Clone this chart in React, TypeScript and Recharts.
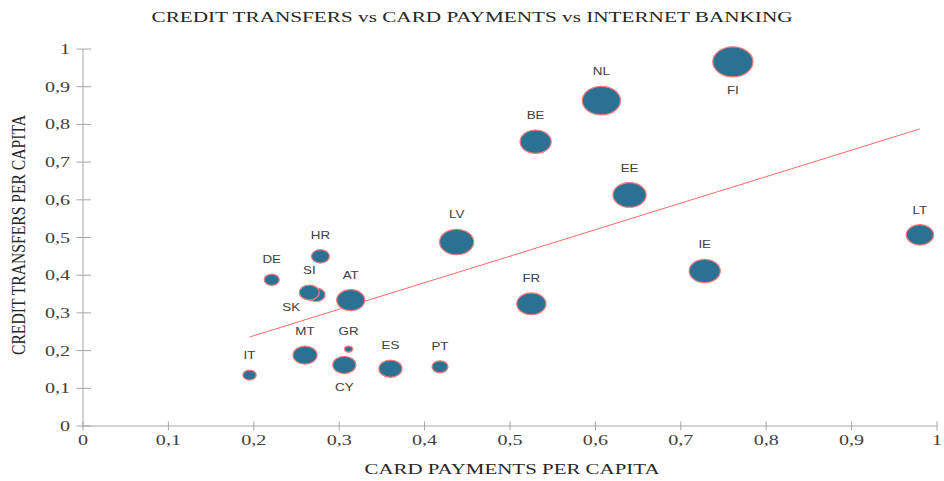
import { ScatterChart, Scatter, XAxis, YAxis, ZAxis, ReferenceLine, Customized } from "recharts";

// country codes, card payments (x), credit transfers (y), internet banking (bubble size)
const countries = ["IT", "DE", "MT", "SK", "SI", "HR", "CY", "GR", "AT", "ES", "PT", "LV", "FR", "BE", "NL", "EE", "IE", "FI", "LT"];
const cardPayments = [0.195, 0.221, 0.26, 0.273, 0.265, 0.278, 0.306, 0.311, 0.3135, 0.36, 0.418, 0.4375, 0.525, 0.53, 0.607, 0.64, 0.728, 0.761, 0.98];
const creditTransfers = [0.135, 0.388, 0.188, 0.348, 0.354, 0.45, 0.162, 0.204, 0.334, 0.152, 0.157, 0.488, 0.324, 0.754, 0.863, 0.613, 0.411, 0.966, 0.507];
const internetBanking = [0.11, 0.14, 0.36, 0.2, 0.25, 0.2, 0.33, 0.04, 0.49, 0.33, 0.16, 0.72, 0.53, 0.6, 0.9, 0.68, 0.6, 1.0, 0.46];

// linear trend line end points
const trendX = [0.195, 0.98];
const trendY = [0.236, 0.788];

const ticks = [0, 0.1, 0.2, 0.3, 0.4, 0.5, 0.6, 0.7, 0.8, 0.9, 1];

const labelPlacement: Record<string, "top" | "bottom" | "left"> = { FI: "bottom", CY: "bottom", SK: "left" };

const data = countries.map((c, i) => ({ name: c, x: cardPayments[i], y: creditTransfers[i], z: internetBanking[i] }));

const STRETCH = 1.34;
const AXIS = "#a6a6a6";
const SERIF = "'Liberation Serif', 'Times New Roman', serif";
const SANS = "'Liberation Sans', Arial, sans-serif";
const fmt = (v: number) => String(Math.round(v * 10) / 10).replace(".", ",");

const XTick = ({ x, y, payload }: any) => (
  <g>
    <line x1={x} x2={x} y1={y - 4.5} y2={y + 4.5} stroke={AXIS} />
    <text transform={`translate(${x},${y + 19}) scale(${STRETCH},1)`} textAnchor="middle" fontFamily={SERIF} fontSize={15} fill="#404040">
      {fmt(payload.value)}
    </text>
  </g>
);

const YTick = ({ x, y, payload }: any) => (
  <g>
    <line x1={x - 6.5} x2={x + 8} y1={y} y2={y} stroke={AXIS} />
    <text transform={`translate(${x - 13},${y + 5}) scale(${STRETCH},1)`} textAnchor="end" fontFamily={SERIF} fontSize={15} fill="#404040">
      {fmt(payload.value)}
    </text>
  </g>
);

const Bubble = (props: any) => {
  const { cx, cy, size, payload } = props;
  const r = Math.sqrt(Math.max(size ?? 0, 0) / Math.PI);
  const place = labelPlacement[payload.name] ?? "top";
  let lx = cx;
  let ly = cy - r - 11;
  if (place === "bottom") ly = cy + r + 17;
  if (place === "left") {
    lx = cx - 25;
    ly = cy + 16;
  }
  return (
    <g>
      <ellipse cx={cx} cy={cy} rx={r * STRETCH} ry={r} fill="#2b7194" stroke="#f47c7c" strokeWidth={1.2} />
      <text transform={`translate(${lx},${ly}) scale(${STRETCH},1)`} textAnchor="middle" fontFamily={SANS} fontSize={10} fill="#404040">
        {payload.name}
      </text>
    </g>
  );
};

const Titles = () => (
  <g fill="#262626" fontFamily={SERIF}>
    <text x={472} y={22} fontSize={15} textAnchor="middle" textLength={641} lengthAdjust="spacingAndGlyphs">
      CREDIT  TRANSFERS  vs  CARD  PAYMENTS  vs  INTERNET  BANKING
    </text>
    <text x={512} y={474} fontSize={15} textAnchor="middle" textLength={295} lengthAdjust="spacingAndGlyphs">
      CARD PAYMENTS  PER CAPITA
    </text>
    <text transform={`translate(25,235) scale(${STRETCH},1) rotate(-90)`} fontSize={13.5} textAnchor="middle" textLength={240} lengthAdjust="spacingAndGlyphs">
      CREDIT TRANSFERS  PER CAPITA
    </text>
  </g>
);

export default function App() {
  return (
    <div style={{ position: "absolute", left: 0, top: 0, background: "#fff" }}>
      <ScatterChart width={944} height={481} margin={{ top: 49, right: 7, bottom: 25, left: 23 }}>
        <XAxis
          type="number"
          dataKey="x"
          domain={[0, 1]}
          ticks={ticks}
          interval={0}
          height={30}
          stroke={AXIS}
          tickLine={false}
          tickSize={0}
          tickMargin={0}
          tick={<XTick />}
        />
        <YAxis
          type="number"
          dataKey="y"
          domain={[0, 1]}
          ticks={ticks}
          interval={0}
          width={60}
          stroke={AXIS}
          tickLine={false}
          tickSize={0}
          tickMargin={0}
          tick={<YTick />}
        />
        <ZAxis type="number" dataKey="z" domain={[0, 1]} range={[0, 707]} />
        <Scatter data={data} shape={<Bubble />} isAnimationActive={false} />
        <ReferenceLine
          segment={[
            { x: trendX[0], y: trendY[0] },
            { x: trendX[1], y: trendY[1] },
          ]}
          stroke="#ff6b6b"
          strokeWidth={1}
          ifOverflow="visible"
        />
        <Customized component={Titles} />
      </ScatterChart>
    </div>
  );
}
